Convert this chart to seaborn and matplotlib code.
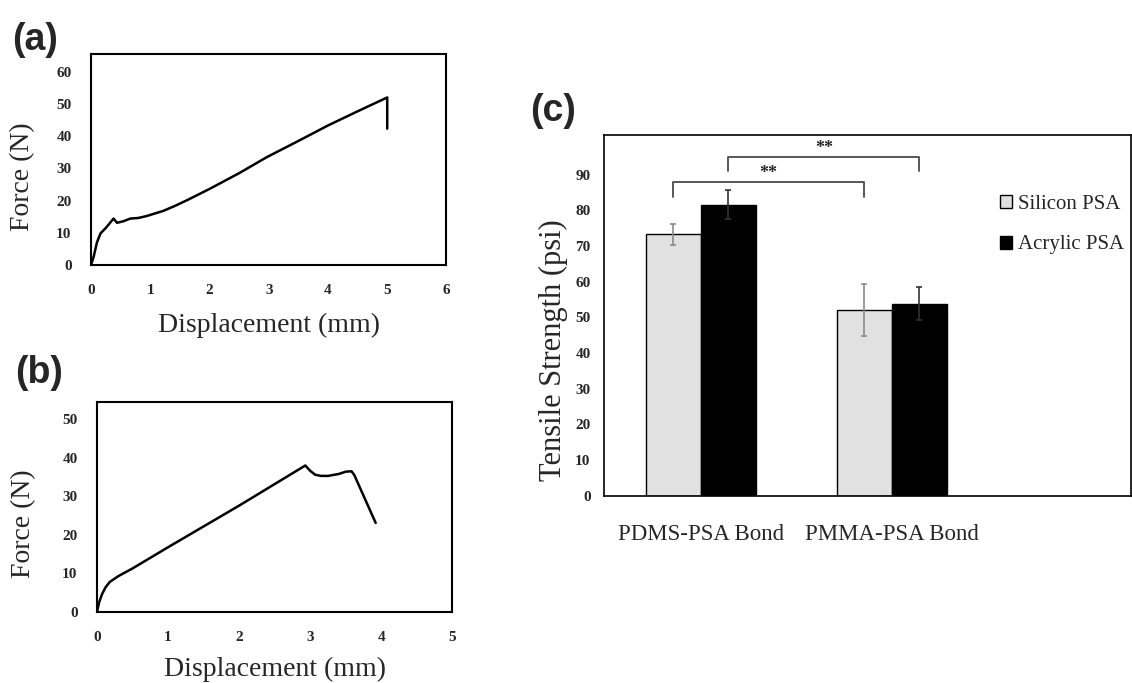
import numpy as np
import pandas as pd
import seaborn as sns
import matplotlib
matplotlib.use("Agg")
import matplotlib.pyplot as plt

#%% Data
# (a) force-displacement curve, sample 1
disp_a = [0, 0.045, 0.10, 0.16, 0.25, 0.38, 0.44, 0.55, 0.66, 0.80, 0.94, 1.22, 1.40, 1.62,
          2.01, 2.50, 2.97, 3.50, 4.00, 4.50, 5.00, 5.00]
force_a = [0, 2.6, 7.0, 9.8, 11.5, 14.4, 13.1, 13.6, 14.4, 14.6, 15.2, 16.8, 18.2, 20.1,
           23.7, 28.5, 33.5, 38.5, 43.3, 47.7, 52.0, 42.3]
# (b) force-displacement curve, sample 2
disp_b = [0, 0.03, 0.07, 0.12, 0.18, 0.30, 0.50, 1.00, 2.00, 2.93, 3.00, 3.07, 3.15, 3.25,
          3.40, 3.50, 3.58, 3.62, 3.92]
force_b = [0, 2.5, 4.6, 6.4, 7.8, 9.3, 11.3, 16.8, 27.6, 38.0, 36.6, 35.6, 35.3, 35.3,
           35.8, 36.4, 36.5, 35.5, 23.1]
# (c) tensile strength
bonds = ["PDMS-PSA Bond", "PMMA-PSA Bond"]
adhesives = ["Silicon PSA", "Acrylic PSA"]
strength_silicon = [73.2, 52.1]
strength_acrylic = [81.6, 53.8]
sd_silicon = [2.9, 7.3]
sd_acrylic = [4.1, 4.6]

df_a = pd.DataFrame({"disp": disp_a, "force": force_a})
df_b = pd.DataFrame({"disp": disp_b, "force": force_b})
df_c = pd.DataFrame({
    "bond": bonds * 2,
    "adhesive": [adhesives[0]] * 2 + [adhesives[1]] * 2,
    "strength": strength_silicon + strength_acrylic,
})

#%% Style
sns.set_style("white")
plt.rcParams['font.family'] = ['Liberation Serif', 'DejaVu Serif']
plt.rcParams['axes.edgecolor'] = 'black'

fig = plt.figure(figsize=(11.32, 6.83), dpi=100)
ax_a = fig.add_axes([0.0804, 0.612, 0.314, 0.309])
ax_b = fig.add_axes([0.0857, 0.104, 0.314, 0.307])
ax_c = fig.add_axes([0.534, 0.274, 0.465, 0.528])


def curve_panel(ax, df, xmax, ymax, ytop, xlabpad, ylab_xy):
    sns.lineplot(data=df, x="disp", y="force", sort=False, estimator=None,
                 color="black", lw=1.8, ax=ax)
    ax.set_xlim(0, xmax)
    ax.set_ylim(0, ytop)
    ax.set_xticks(range(0, xmax + 1))
    ax.set_yticks(range(0, ymax + 1, 10))
    ax.tick_params(direction="in", length=5, width=1.2, labelsize=11)
    ax.tick_params(axis="x", pad=14)
    ax.tick_params(axis="y", pad=14)
    for lab in ax.get_xticklabels() + ax.get_yticklabels():
        lab.set_fontweight("bold")
    ax.set_xlabel("Displacement (mm)", fontsize=20, labelpad=xlabpad)
    ax.set_ylabel("Force (N)", fontsize=20)
    ax.yaxis.set_label_coords(*ylab_xy)
    for s in ax.spines.values():
        s.set_linewidth(1.5)


curve_panel(ax_a, df_a, 6, 60, 65.5, 11, (-0.158, 0.417))
curve_panel(ax_b, df_b, 5, 50, 54.4, 9, (-0.172, 0.419))

#%% (c) bar chart
sns.barplot(data=df_c, x="bond", y="strength", hue="adhesive", order=bonds,
            hue_order=adhesives, palette=["#e1e1e1", "#000000"], width=0.576,
            edgecolor="black", linewidth=1, errorbar=None, ax=ax_c)

err_colors = ["#8a8a8a", "#333333"]
centers = []
for cont, sd, ec in zip(ax_c.containers, [sd_silicon, sd_acrylic], err_colors):
    xs = [p.get_x() + p.get_width() / 2 for p in cont.patches]
    hs = [p.get_height() for p in cont.patches]
    ax_c.errorbar(xs, hs, yerr=sd, fmt="none", ecolor=ec, elinewidth=1.2,
                  capsize=2.5, capthick=1.2)
    centers.append(xs)

# significance brackets
brackets = [(centers[0][0], centers[0][1], 87.8, 83.6),
            (centers[1][0], centers[1][1], 95.0, 90.9)]
for x0, x1, yb, yl in brackets:
    ax_c.plot([x0, x0, x1, x1], [yl, yb, yb, yl], color="#4a4a4a", lw=1.3)
    ax_c.text((x0 + x1) / 2, yb + 2.4, "**", ha="center", va="center",
              fontsize=13, fontweight="bold")

ax_c.set_xlim(-0.503, 2.25)
ax_c.set_ylim(0, 101)
ax_c.set_yticks(range(0, 91, 10))
ax_c.tick_params(axis="y", direction="in", length=3, labelsize=11, pad=10)
ax_c.tick_params(axis="x", length=0, labelsize=16.5, pad=20)
for lab in ax_c.get_yticklabels():
    lab.set_fontweight("bold")
ax_c.set_xlabel(None)
ax_c.set_ylabel("Tensile Strength (psi)", fontsize=22)
ax_c.yaxis.set_label_coords(-0.07, 0.405)
for s in ax_c.spines.values():
    s.set_linewidth(1.2)
sns.move_legend(ax_c, "upper left", bbox_to_anchor=(0.727, 0.87), frameon=False,
                title=None, fontsize=15, handlelength=0.6, handleheight=0.6,
                handletextpad=0.3, labelspacing=1.05, borderaxespad=0.2)

#%% Panel letters
for xx, yy, lab in [(0.0106, 0.968, "(a)"), (0.013, 0.480, "(b)"), (0.468, 0.864, "(c)")]:
    fig.text(xx, yy, lab, fontsize=27, fontweight="bold", family="Liberation Sans",
             va="top", ha="left")

fig.savefig("out.png", dpi=100)
